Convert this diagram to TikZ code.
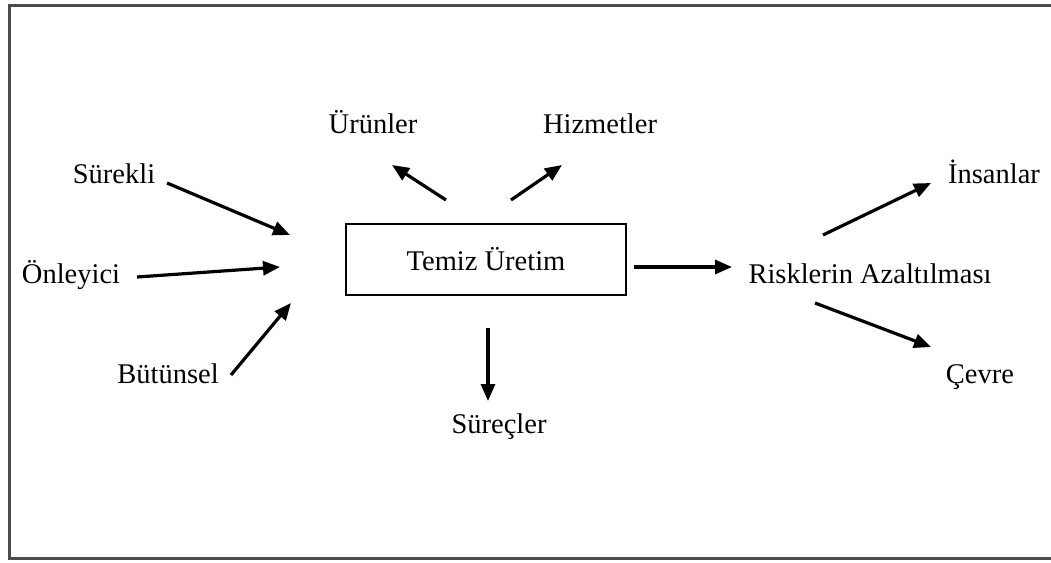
\documentclass[tikz,border=0pt]{standalone}
\usepackage{fontspec}
\setmainfont{Liberation Serif}
\usetikzlibrary{arrows.meta}
\begin{document}
\begin{tikzpicture}[x=1pt,y=-1pt,
  lbl/.style={anchor=base,inner sep=0pt,font=\fontsize{28.5}{34}\selectfont},
  arr/.style={line width=3.2pt,-{Triangle[length=17pt,width=14pt]}},
  mainbox/.style={draw,line width=2.8pt,minimum width=280pt,minimum height=71pt,inner sep=0pt,font=\fontsize{28.5}{34}\selectfont}]
\useasboundingbox (0,0) rectangle (1051,562);
% outer frame (right side runs past the page edge)
\draw[line width=3pt,black!70] (1060,5) -- (9,5) -- (9,558) -- (1060,558);

% centre box
\node[mainbox] (tu) at (486,259.5) {Temiz Üretim};

% labels
\node[lbl] (surekli) at (114,183) {Sürekli};
\node[lbl] (onleyici) at (71,283) {Önleyici};
\node[lbl] (butunsel) at (168,383) {Bütünsel};
\node[lbl] (urunler) at (373,133) {Ürünler};
\node[lbl] (hizmetler) at (600,133) {Hizmetler};
\node[lbl] (surecler) at (499,433) {Süreçler};
\node[lbl] (risk) at (870,283) {Risklerin Azaltılması};
\node[lbl] (insanlar) at (994,183) {İnsanlar};
\node[lbl] (cevre) at (980,383) {Çevre};

% arrow end points
\coordinate (s1) at (167,183);  \coordinate (s2) at (290,235);
\coordinate (o1) at (137,277);  \coordinate (o2) at (280,267);
\coordinate (b1) at (231,375);  \coordinate (b2) at (291,303);
\coordinate (u1) at (446,200);  \coordinate (u2) at (392,165);
\coordinate (h1) at (511,200);  \coordinate (h2) at (562,165);
\coordinate (p1) at (488,328);  \coordinate (p2) at (488,401);
\coordinate (r1) at (634,267);  \coordinate (r2) at (732,267);
\coordinate (i1) at (823,235);  \coordinate (i2) at (931,183);
\coordinate (c1) at (815,303);  \coordinate (c2) at (931,347);

\draw[arr] (s1) -- (s2);
\draw[arr] (o1) -- (o2);
\draw[arr] (b1) -- (b2);
\draw[arr] (u1) -- (u2);
\draw[arr] (h1) -- (h2);
\draw[arr] (p1) -- (p2);
\draw[arr] (r1) -- (r2);
\draw[arr] (i1) -- (i2);
\draw[arr] (c1) -- (c2);
\end{tikzpicture}
\end{document}
